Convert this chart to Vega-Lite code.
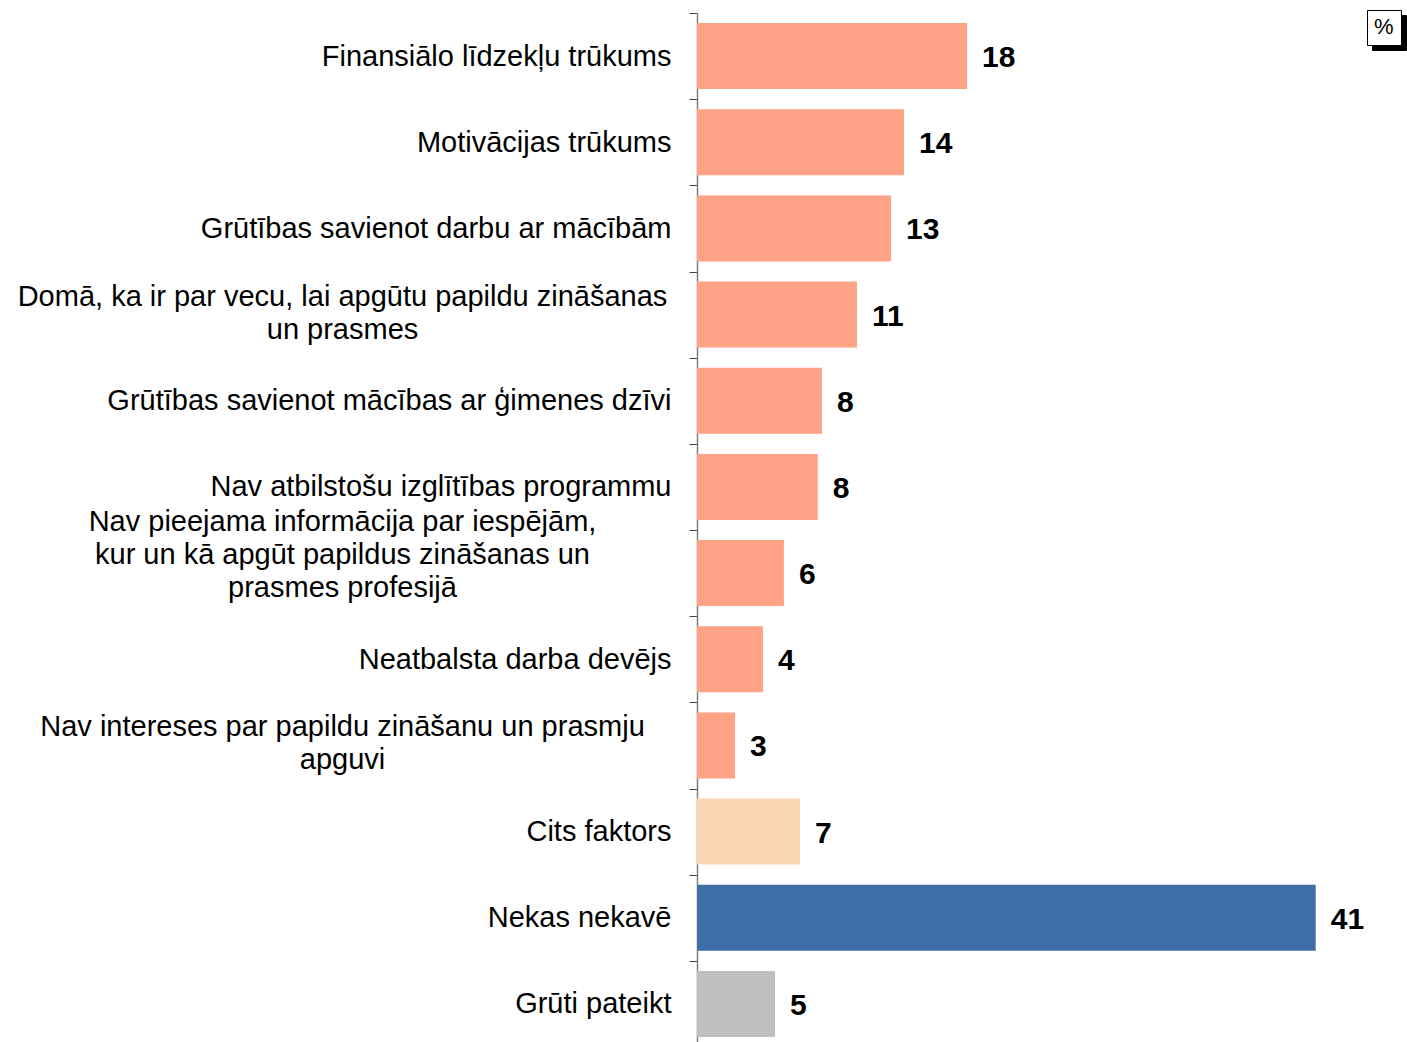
{
  "$schema": "https://vega.github.io/schema/vega-lite/v6.json",
  "width": 710,
  "height": 1029,
  "autosize": {"type": "none"},
  "padding": {"left": 697, "top": 13, "right": 0, "bottom": 0},
  "background": "white",
  "config": {"view": {"stroke": null}, "font": "Liberation Sans"},
  "data": {
    "values": [
      {"cat": "Finansiālo līdzekļu trūkums", "value": 17.9, "grp": "a"},
      {"cat": "Motivācijas trūkums", "value": 13.72, "grp": "a"},
      {"cat": "Grūtības savienot darbu ar mācībām ", "value": 12.86, "grp": "a"},
      {"cat": "Domā, ka ir par vecu, lai apgūtu papildu zināšanas\nun prasmes", "value": 10.6, "grp": "a"},
      {"cat": "Grūtības savienot mācības ar ģimenes dzīvi", "value": 8.28, "grp": "a"},
      {"cat": "Nav atbilstošu izglītības programmu", "value": 8.0, "grp": "a"},
      {"cat": "Nav pieejama informācija par iespējām,\nkur un kā apgūt papildus zināšanas un\nprasmes profesijā", "value": 5.76, "grp": "a"},
      {"cat": "Neatbalsta darba devējs", "value": 4.37, "grp": "a"},
      {"cat": "Nav intereses par papildu zināšanu un prasmju\napguvi", "value": 2.52, "grp": "a"},
      {"cat": "Cits faktors", "value": 6.82, "grp": "b"},
      {"cat": "Nekas nekavē", "value": 41.0, "grp": "c"},
      {"cat": "Grūti pateikt", "value": 5.17, "grp": "d"}
    ]
  },
  "resolve": {"axis": {"y": "independent"}},
  "layer": [
    {
      "mark": {"type": "bar", "height": {"band": 0.766}},
      "encoding": {
        "y": {
          "field": "cat",
          "type": "nominal",
          "sort": null,
          "scale": {"range": [0, 1034], "paddingInner": 0, "paddingOuter": 0},
          "axis": {
            "orient": "left",
            "title": null,
            "tickBand": "extent",
            "domainColor": "#7F7F7F",
            "domainWidth": 1.5,
            "tickColor": "#404040",
            "tickSize": 8,
            "tickWidth": 1,
            "labelFont": "Liberation Sans",
            "labelFontSize": 29,
            "labelColor": "black",
            "labelLimit": 1000,
            "labelPadding": 18,
            "labelOverlap": false,
            "labelExpr": "indexof(datum.label, '\\n') >= 0 ? '' : datum.label",
            "grid": false
          }
        },
        "x": {
          "field": "value",
          "type": "quantitative",
          "scale": {"domain": [0, 47.05], "nice": false, "zero": true},
          "axis": null
        },
        "color": {
          "field": "grp",
          "type": "nominal",
          "scale": {"domain": ["a", "b", "c", "d"], "range": ["#FFA285", "#FCD5B5", "#3F6EA6", "#BFBFBF"]},
          "legend": null
        }
      }
    },
    {
      "mark": {
        "type": "text",
        "align": "left",
        "baseline": "middle",
        "dx": 15,
        "dy": 2,
        "fontWeight": "bold",
        "font": "Liberation Sans",
        "color": "black"
      },
      "encoding": {
        "y": {
          "field": "cat",
          "type": "nominal",
          "sort": null,
          "axis": {
            "orient": "left",
            "title": null,
            "domain": false,
            "ticks": false,
            "grid": false,
            "labelFont": "Liberation Sans",
            "labelFontSize": 29,
            "labelColor": "black",
            "labelLimit": 1000,
            "labelAlign": "center",
            "labelPadding": 355,
            "labelLineHeight": 33,
            "labelOffset": -34,
            "labelBaseline": {
              "condition": {"test": "length(split(datum.value, '\\n')) > 2", "value": "line-bottom"},
              "value": "line-top"
            },
            "labelOverlap": false,
            "labelExpr": "indexof(datum.label, '\\n') >= 0 ? split(datum.label, '\\n') : ''"
          }
        },
        "x": {
          "field": "value",
          "type": "quantitative",
          "scale": {"domain": [0, 47.05], "nice": false, "zero": true}
        },
        "text": {"field": "value", "type": "quantitative", "format": ".0f"},
        "size": {
          "datum": "shadow",
          "type": "ordinal",
          "scale": {"range": [30, 30]},
          "legend": {
            "orient": "none",
            "legendX": 675,
            "legendY": 2,
            "title": "%",
            "values": [],
            "titleFont": "Liberation Sans",
            "titleFontSize": 22,
            "titleFontWeight": "normal",
            "titleColor": "black",
            "titlePadding": 0,
            "fillColor": "black",
            "strokeColor": "black",
            "padding": 7,
            "zindex": 0
          }
        },
        "opacity": {
          "datum": "%",
          "type": "ordinal",
          "scale": {"range": [1]},
          "legend": {
            "orient": "none",
            "legendX": 670,
            "legendY": -3,
            "title": "%",
            "values": [],
            "titleFont": "Liberation Sans",
            "titleFontSize": 22,
            "titleFontWeight": "normal",
            "titleColor": "black",
            "titlePadding": 0,
            "fillColor": "white",
            "strokeColor": "black",
            "padding": 7,
            "zindex": 1
          }
        }
      }
    }
  ]
}
